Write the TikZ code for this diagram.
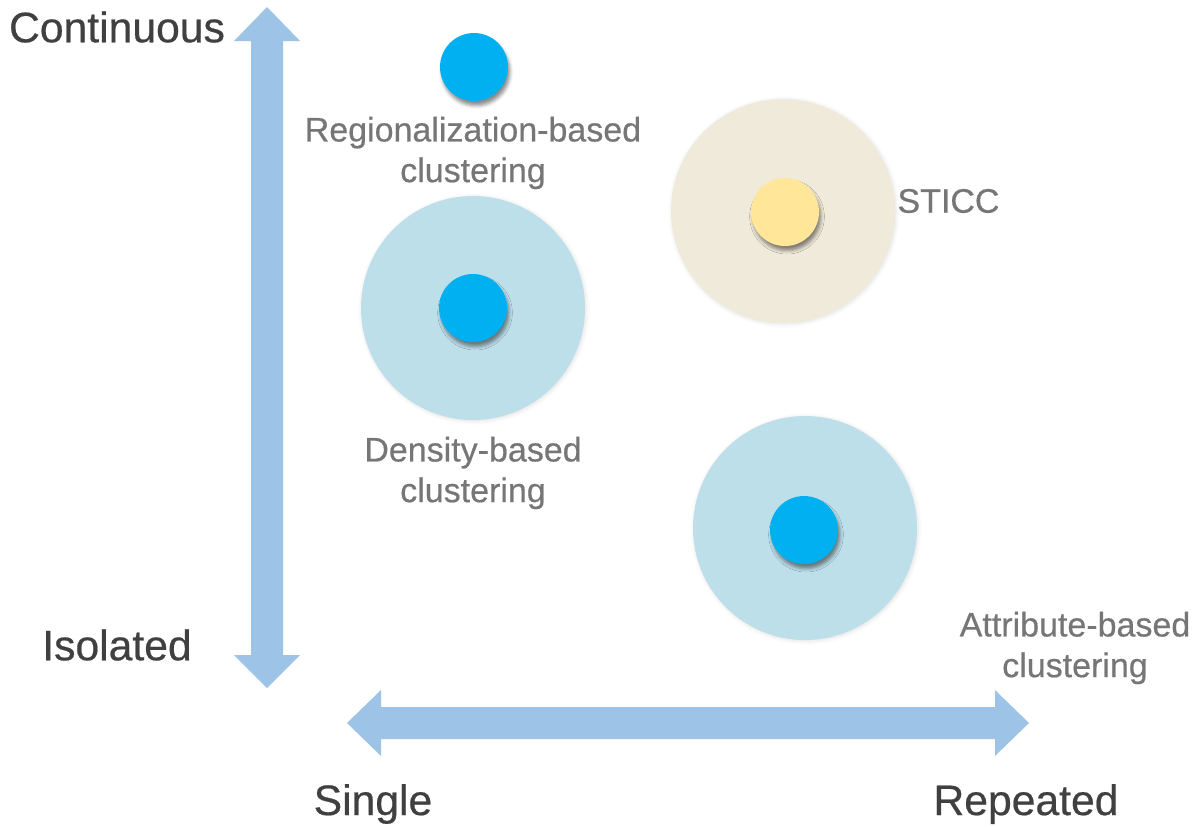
\documentclass[tikz,border=0pt]{standalone}
\usepackage{fontspec}
\setmainfont{Liberation Sans}
\newfontfamily\labelfont{Liberation Sans}[FakeBold=0.5]
\usetikzlibrary{shadows,shadows.blur}
\definecolor{arrowblue}{RGB}{157,195,230}
\definecolor{dotblue}{RGB}{0,176,240}
\definecolor{haloblue}{RGB}{189,223,234}
\definecolor{halobeige}{RGB}{240,234,218}
\definecolor{dotyellow}{RGB}{255,230,153}
\definecolor{axistext}{RGB}{64,64,64}
\definecolor{labeltext}{RGB}{118,118,118}
\tikzset{every picture/.style={line width=0.75pt}}
\tikzset{
  halo/.style={circle, minimum size=168pt, inner sep=0pt, draw=none,
    blur shadow={shadow xshift=0.75pt, shadow yshift=-0.75pt, shadow blur radius=3pt, shadow opacity=12}},
  dot/.style={circle, minimum size=51pt, inner sep=0pt, draw=none, fill=dotblue,
    blur shadow={shadow xshift=1.5pt, shadow yshift=-3.5pt, shadow blur radius=2.5pt, shadow opacity=45}},
  axislabel/.style={text=axistext, font=\labelfont\fontsize{32}{38}\selectfont, inner sep=0.75pt},
  methodlabel/.style={text=labeltext, font=\labelfont\fontsize{25.5}{30.5}\selectfont, inner sep=0.75pt, align=center}
}

\begin{document}
\begin{tikzpicture}[x=0.75pt,y=0.75pt,yscale=-1,xscale=1]
\useasboundingbox (0,0) rectangle (1203,826);

%Vertical axis arrow
\fill [arrowblue] (267,7) -- (300,41) -- (283,41) -- (283,655) -- (300,655) -- (267,688) -- (234,655) -- (251,655) -- (251,41) -- (234,41) -- cycle ;
%Horizontal axis arrow
\fill [arrowblue] (347,723) -- (381,690) -- (381,707) -- (995,707) -- (995,690) -- (1029,723) -- (995,756) -- (995,739) -- (381,739) -- (381,756) -- cycle ;

%Halos
\node [halo, fill=haloblue] (densityHalo) at (473,308) {};
\node [halo, fill=halobeige] (sticcHalo) at (783,211) {};
\node [halo, fill=haloblue] (attributeHalo) at (805,528) {};

%Dots
\node [dot] (regionDot) at (474,67) {};
\node [dot] (densityDot) at (473,308) {};
\node [dot, fill=dotyellow] (sticcDot) at (785,212) {};
\node [dot] (attributeDot) at (804,530) {};

% Axis labels
\node [axislabel] (continuous) at (117,27) {Continuous};
\node [axislabel] (isolated) at (117,645) {Isolated};
\node [axislabel] (single) at (373,804) {Single};
\node [axislabel] (repeated) at (1026,804) {Repeated};

% Method labels
\node [methodlabel] (regionLabel) at (473,153) {Regionalization-based\\clustering};
\node [methodlabel] (densityLabel) at (473,473) {Density-based\\clustering};
\node [methodlabel, anchor=west] (sticcLabel) at (896,201) {STICC};
\node [methodlabel] (attributeLabel) at (1075,648) {Attribute-based\\clustering};
\end{tikzpicture}
\end{document}
